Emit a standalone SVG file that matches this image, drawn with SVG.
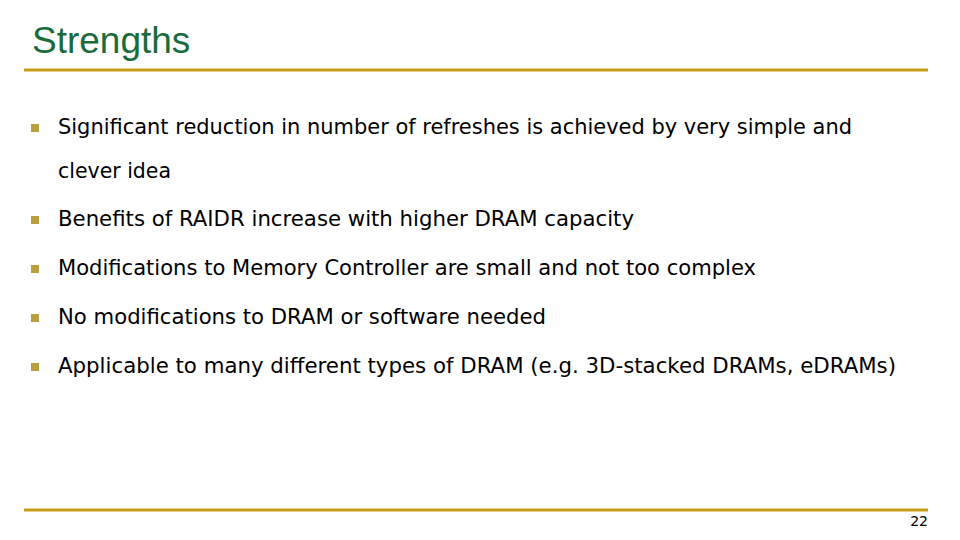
<svg xmlns="http://www.w3.org/2000/svg" width="960" height="540" viewBox="0 0 960 540">
<style>
.t{font-family:"DejaVu Sans","Liberation Sans",sans-serif;font-size:21px;fill:#000}
.b{fill:#b8a040}
</style>
<rect width="960" height="540" fill="#fff"/>
<text x="32" y="53" font-family="Liberation Sans,Arial,sans-serif" font-size="37" fill="#1a6b3c">Strengths</text>
<line x1="24" y1="70" x2="928" y2="70" stroke="#c8a018" stroke-width="3"/>
<line x1="24" y1="510" x2="928" y2="510" stroke="#c8a018" stroke-width="3"/>
<g id="b1"><rect class="b" x="31" y="124" width="8" height="8"/><text class="t" x="58" y="134" textLength="794" lengthAdjust="spacingAndGlyphs">Significant reduction in number of refreshes is achieved by very simple and</text><text class="t" x="58" y="178" textLength="113" lengthAdjust="spacingAndGlyphs">clever idea</text></g>
<g id="b2"><rect class="b" x="31" y="216" width="8" height="8"/><text class="t" x="58" y="226" textLength="576" lengthAdjust="spacingAndGlyphs">Benefits of RAIDR increase with higher DRAM capacity</text></g>
<g id="b3"><rect class="b" x="31" y="265" width="8" height="8"/><text class="t" x="58" y="275" textLength="698" lengthAdjust="spacingAndGlyphs">Modifications to Memory Controller are small and not too complex</text></g>
<g id="b4"><rect class="b" x="31" y="314" width="8" height="8"/><text class="t" x="58" y="324" textLength="488" lengthAdjust="spacingAndGlyphs">No modifications to DRAM or software needed</text></g>
<g id="b5"><rect class="b" x="31" y="363" width="8" height="8"/><text class="t" x="58" y="373" textLength="838" lengthAdjust="spacingAndGlyphs">Applicable to many different types of DRAM (e.g. 3D-stacked DRAMs, eDRAMs)</text></g>
<text x="928" y="526" text-anchor="end" font-family="DejaVu Sans,sans-serif" font-size="14">22</text>
</svg>
